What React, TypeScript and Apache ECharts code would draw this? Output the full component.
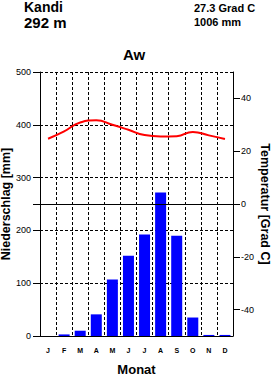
import React, { useEffect, useRef } from "react";
import * as echarts from "echarts";

const months = ["J", "F", "M", "A", "M", "J", "J", "A", "S", "O", "N", "D"];
const precipitation = [0, 3, 10, 41, 107, 152, 192, 272, 190, 35, 2, 2];
const temperature = [24.7, 27.5, 30.9, 31.7, 30.0, 28.1, 26.1, 25.6, 25.7, 27.3, 26.0, 24.6];
const precipLabels = [0, 100, 200, 300, 400, 500];
const precipTicks = [0, 100, 200, 250, 300, 400, 500];
const tempLabels = [-40, -20, 0, 20, 40];
const stationName = "Kandi";
const stationHeight = "292 m";
const meanTemp = "27.3 Grad C";
const totalPrecip = "1006 mm";
const climateClass = "Aw";

const FONT = "Liberation Sans, Arial, sans-serif";

export default function App() {
  const ref = useRef<HTMLDivElement>(null);
  useEffect(() => {
    if (!ref.current) return;
    const chart = echarts.init(ref.current, null, { renderer: "svg" });
    const dashed = { color: "#000", width: 1, type: [3, 2] as any };
    chart.setOption({
      animation: false,
      backgroundColor: "#fff",
      textStyle: { fontFamily: FONT },
      grid: { left: 40, right: 38, top: 72, bottom: 41, containLabel: false, outerBoundsMode: "none" },
      graphic: [
        { type: "text", left: 24, top: 0, style: { text: stationName, font: "bold 14px " + FONT, fill: "#000" } },
        { type: "text", left: 24, top: 15, style: { text: stationHeight, font: "bold 15px " + FONT, fill: "#000" } },
        { type: "text", left: 194, top: 2, style: { text: meanTemp, font: "bold 11px " + FONT, fill: "#000" } },
        { type: "text", left: 194, top: 16, style: { text: totalPrecip, font: "bold 11px " + FONT, fill: "#000" } },
        { type: "text", left: 123, top: 47, style: { text: climateClass, font: "bold 15px " + FONT, fill: "#000" } },
      ],
      xAxis: {
        type: "category",
        data: months,
        boundaryGap: true,
        name: "Monat",
        nameLocation: "middle",
        nameGap: 27,
        nameMoveOverlap: false,
        nameTextStyle: { fontSize: 13, fontWeight: "bold", color: "#000", fontFamily: FONT },
        axisLine: { lineStyle: { color: "#000", width: 1 } },
        axisTick: { show: false },
        axisLabel: { color: "#000", fontSize: 7, fontWeight: "bold", margin: 11, interval: 0 },
        splitLine: { show: true, interval: 0, lineStyle: dashed },
      },
      yAxis: [
        {
          type: "value",
          min: 0,
          max: 500,
          interval: 50,
          position: "left",
          name: "Niederschlag [mm]",
          nameLocation: "middle",
          nameRotate: 90,
          nameGap: 28,
          nameMoveOverlap: false,
          nameTextStyle: { fontSize: 12.5, fontWeight: "bold", color: "#000", fontFamily: FONT },
          axisLine: { show: true, lineStyle: { color: "#000", width: 1 } },
          axisTick: { show: true, length: 7, customValues: precipTicks, lineStyle: { color: "#000" } },
          axisLabel: { color: "#000", fontSize: 9, margin: 9, customValues: precipLabels },
          splitLine: { show: true, lineStyle: dashed },
        },
        {
          type: "value",
          min: -50,
          max: 50,
          interval: 10,
          position: "right",
          name: "Temperatur [Grad C]",
          nameLocation: "middle",
          nameRotate: -90,
          nameGap: 25,
          nameMoveOverlap: false,
          nameTextStyle: { fontSize: 12.5, fontWeight: "bold", color: "#000", fontFamily: FONT },
          axisLine: { show: true, lineStyle: { color: "#000", width: 1 } },
          axisTick: { show: true, length: 7, customValues: tempLabels, lineStyle: { color: "#000" } },
          axisLabel: { color: "#000", fontSize: 9, margin: 8, customValues: tempLabels },
          splitLine: { show: false },
        },
      ],
      series: [
        {
          type: "bar",
          data: precipitation,
          yAxisIndex: 0,
          barWidth: 11,
          itemStyle: { color: "#0000ff" },
          markLine: {
            silent: true,
            symbol: "none",
            label: { show: false },
            lineStyle: { color: "#000", width: 1, type: "solid" },
            data: [{ yAxis: 250 }],
          },
        },
        {
          type: "line",
          data: temperature,
          yAxisIndex: 1,
          smooth: true,
          showSymbol: false,
          symbol: "none",
          lineStyle: { color: "#ff0000", width: 2 },
        },
      ],
    });
    return () => chart.dispose();
  }, []);
  return <div ref={ref} style={{ position: "fixed", left: 0, top: 0, width: 271, height: 377 }} />;
}
